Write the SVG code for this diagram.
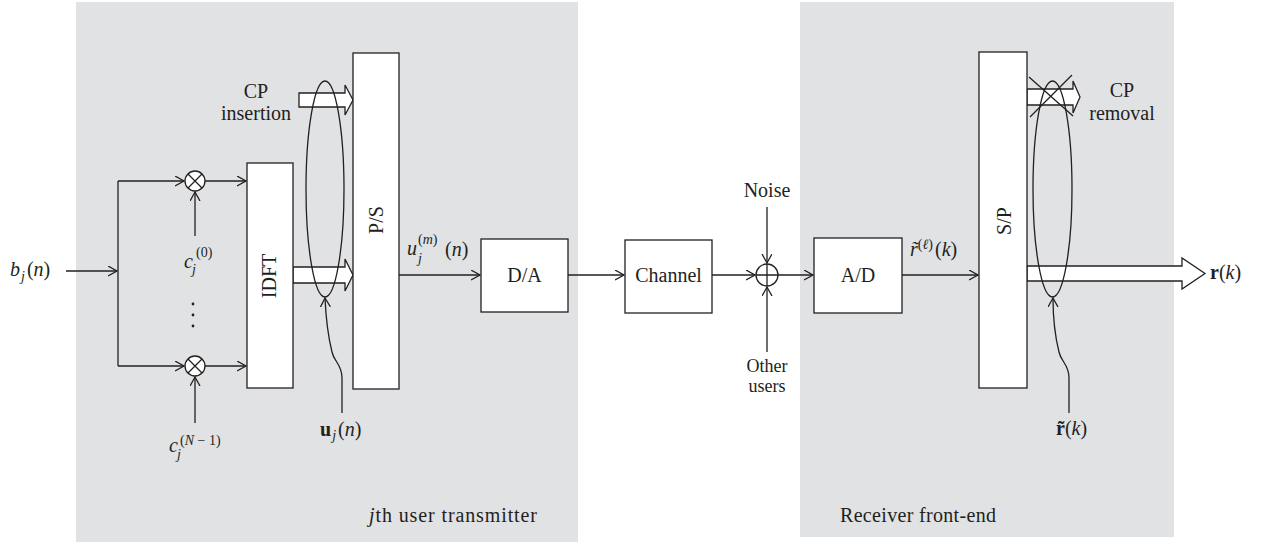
<svg xmlns="http://www.w3.org/2000/svg" width="1262" height="542" viewBox="0 0 1262 542">
<defs>
<marker id="arr" markerUnits="userSpaceOnUse" markerWidth="12" markerHeight="12" refX="9" refY="5" orient="auto">
<path d="M0,0 L9,5 L0,10" fill="none" stroke="#231f20" stroke-width="1.3"/>
</marker>
<style>
.ln{stroke:#231f20;stroke-width:1.3;fill:none}
.bx{stroke:#231f20;stroke-width:1.3;fill:#ffffff}
.t{font-family:"Liberation Serif","Times New Roman",serif;font-size:20px;fill:#231f20}
.s{font-size:14px}
.i{font-style:italic}
.b{font-weight:bold}
.m{text-anchor:middle}
.panel{fill:#e1e2e4}
</style>
</defs>
<rect width="1262" height="542" fill="#ffffff"/>
<g id="panels">
<rect class="panel" x="76" y="2" width="502" height="540"/>
<rect class="panel" x="800" y="2" width="374" height="535"/>
<text class="t" x="369" y="522" textLength="168"><tspan class="i">j</tspan>th user transmitter</text>
<text class="t" x="840" y="522" textLength="156">Receiver front-end</text>
</g>
<g id="connectors">
<line class="ln" x1="66" y1="271" x2="117" y2="271" marker-end="url(#arr)"/>
<polyline class="ln" points="118,181 118,366"/>
<line class="ln" x1="118" y1="181" x2="184" y2="181" marker-end="url(#arr)"/>
<line class="ln" x1="118" y1="366" x2="184" y2="366" marker-end="url(#arr)"/>
<line class="ln" x1="195" y1="236" x2="195" y2="192" marker-end="url(#arr)"/>
<line class="ln" x1="195" y1="423" x2="195" y2="377" marker-end="url(#arr)"/>
<line class="ln" x1="205" y1="181" x2="246" y2="181" marker-end="url(#arr)"/>
<line class="ln" x1="205" y1="366" x2="246" y2="366" marker-end="url(#arr)"/>
<line class="ln" x1="399" y1="275" x2="480" y2="275" marker-end="url(#arr)"/>
<line class="ln" x1="568" y1="275" x2="624" y2="275" marker-end="url(#arr)"/>
<line class="ln" x1="712" y1="275" x2="755" y2="275" marker-end="url(#arr)"/>
<line class="ln" x1="767" y1="207" x2="767" y2="263" marker-end="url(#arr)"/>
<line class="ln" x1="767" y1="352" x2="767" y2="287" marker-end="url(#arr)"/>
<line class="ln" x1="778" y1="275" x2="813" y2="275" marker-end="url(#arr)"/>
<line class="ln" x1="902" y1="275" x2="978" y2="275" marker-end="url(#arr)"/>
<polygon class="bx" points="299,93 345,93 345,85 353,100 345,115 345,107 299,107"/>
<polygon class="bx" points="293,267 345,267 345,259 353,275 345,291 345,283 293,283"/>
<polygon class="bx" points="1027,89 1073,89 1073,81 1080,97 1073,113 1073,105 1027,105"/>
<polygon class="bx" points="1027,266 1182,266 1182,258 1205,273.5 1182,289 1182,281 1027,281"/>
<line class="ln" x1="1029" y1="77" x2="1073" y2="116"/>
<line class="ln" x1="1072" y1="75" x2="1030" y2="117"/>
<ellipse class="ln" cx="325" cy="189" rx="19" ry="108"/>
<ellipse class="ln" cx="1052.5" cy="189" rx="19.5" ry="108"/>
<path class="ln" d="M342,413 L342,378 C342,364 334,362 332,352 C329,340 326,320 325,298" marker-end="url(#arr)"/>
<path class="ln" d="M1069,413 L1069,378 C1069,364 1061,362 1059,352 C1056,340 1053,320 1053,298" marker-end="url(#arr)"/>
<circle cx="193" cy="304" r="1.4" fill="#231f20"/>
<circle cx="193" cy="315" r="1.4" fill="#231f20"/>
<circle cx="193" cy="326" r="1.4" fill="#231f20"/>
</g>
<g id="mult0">
<circle class="bx" cx="195" cy="181" r="10"/>
<path class="ln" d="M188,174 L202,188 M202,174 L188,188"/>
</g>
<g id="mult1">
<circle class="bx" cx="195" cy="366" r="10"/>
<path class="ln" d="M188,359 L202,373 M202,359 L188,373"/>
</g>
<g id="idft">
<rect class="bx" x="247" y="163" width="46" height="225"/>
<text class="t m" transform="translate(276,276) rotate(-90)">IDFT</text>
</g>
<g id="ps">
<rect class="bx" x="353" y="53" width="46" height="336"/>
<text class="t m" transform="translate(383,220) rotate(-90)">P/S</text>
</g>
<g id="da">
<rect class="bx" x="481" y="239" width="87" height="73"/>
<text class="t m" x="524.5" y="282">D/A</text>
</g>
<g id="channel">
<rect class="bx" x="625" y="240" width="87" height="73"/>
<text class="t m" x="668.5" y="282">Channel</text>
</g>
<g id="adder">
<circle class="bx" cx="767" cy="275" r="11"/>
<path class="ln" d="M756,275 L778,275 M767,264 L767,286"/>
</g>
<g id="ad">
<rect class="bx" x="814" y="238" width="88" height="75"/>
<text class="t m" x="858" y="282">A/D</text>
</g>
<g id="sp">
<rect class="bx" x="979" y="52" width="48" height="336"/>
<text class="t m" transform="translate(1011,221) rotate(-90)">S/P</text>
</g>
<g id="labels">
<text class="t" x="10" y="276"><tspan class="i">b</tspan><tspan class="i s" dx="1" dy="5">j</tspan><tspan dx="2" dy="-5">(</tspan><tspan class="i">n</tspan>)</text>
<text class="t i" x="184" y="268">c</text>
<text class="t s" x="196" y="257">(0)</text>
<text class="t s i" x="192" y="274">j</text>
<text class="t i" x="169" y="452">c</text>
<text class="t s" x="180" y="445">(<tspan class="i">N</tspan> − 1)</text>
<text class="t s i" x="177" y="459">j</text>
<text class="t" x="320" y="436"><tspan class="b">u</tspan><tspan class="i s" dx="1" dy="4">j</tspan><tspan dx="2" dy="-4">(</tspan><tspan class="i">n</tspan>)</text>
<text class="t i" x="407" y="255">u</text>
<text class="t s" x="418" y="244">(<tspan class="i">m</tspan>)</text>
<text class="t s i" x="418" y="263">j</text>
<text class="t" x="445" y="256">(<tspan class="i">n</tspan>)</text>
<text class="t m" x="256" y="98">CP</text>
<text class="t m" x="256" y="120">insertion</text>
<text class="t m" x="1122" y="97">CP</text>
<text class="t m" x="1122" y="120">removal</text>
<text class="t m" x="767" y="197">Noise</text>
<text class="t m" x="767" y="372" style="font-size:18px">Other</text>
<text class="t m" x="767" y="392" style="font-size:18px">users</text>
<text class="t" x="910" y="256"><tspan class="i">r̃</tspan><tspan class="s" dy="-7">(<tspan class="i">ℓ</tspan>)</tspan><tspan dx="2" dy="7">(</tspan><tspan class="i">k</tspan>)</text>
<text class="t" x="1210" y="279"><tspan class="b">r</tspan>(<tspan class="i">k</tspan>)</text>
<text class="t" x="1056" y="435"><tspan class="b">r̃</tspan>(<tspan class="i">k</tspan>)</text>
</g>
</svg>
